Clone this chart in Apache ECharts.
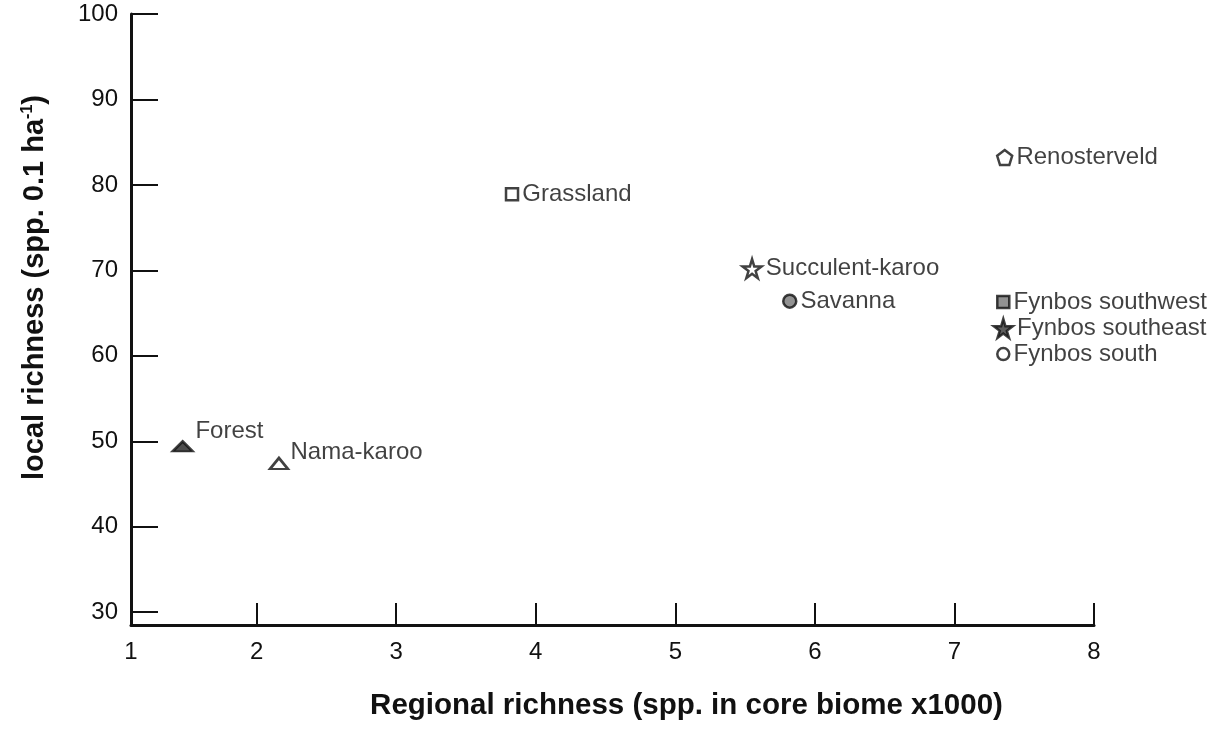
<!DOCTYPE html>
<html>
<head>
<meta charset="utf-8">
<script src="https://cdn.jsdelivr.net/npm/echarts@6/dist/echarts.min.js"></script>
<style>
  html, body { margin: 0; padding: 0; background: #fff; }
  #chart { width: 1226px; height: 731px; }
</style>
</head>
<body>
<div id="chart"></div>
<script>
// biomes and their richness values
var biomes = ['Forest', 'Nama-karoo', 'Grassland', 'Succulent-karoo', 'Savanna',
              'Renosterveld', 'Fynbos southwest', 'Fynbos southeast', 'Fynbos south'];
var regional = [1.47, 2.16, 3.83, 5.55, 5.82, 7.36, 7.35, 7.35, 7.35];
var local = [49.4, 47.4, 78.9, 70.2, 66.4, 83.2, 66.3, 63.2, 60.2];

var STAR = 'path://M50,0 L61,35 L98,35 L68,57 L79,91 L50,70 L21,91 L32,57 L2,35 L39,35 Z';
var PENTA = 'path://M50,0 L100,38 L81,100 L19,100 L0,38 Z';

// marker look for each biome
var looks = {
    'Forest':           { symbol: 'triangle', size: [20, 10], fill: '#222', offset: [-2, -15] },
    'Nama-karoo':       { symbol: 'triangle', size: [18, 11], fill: '#fff', offset: [-2, -11] },
    'Grassland':        { symbol: 'rect', size: 12, fill: '#fff' },
    'Succulent-karoo':  { symbol: STAR, size: 19, fill: '#fff' },
    'Savanna':          { symbol: 'circle', size: 13, fill: '#777' },
    'Renosterveld':     { symbol: PENTA, size: 15, fill: '#fff' },
    'Fynbos southwest': { symbol: 'rect', size: 12, fill: '#777' },
    'Fynbos southeast': { symbol: STAR, size: 19, fill: '#333' },
    'Fynbos south':     { symbol: 'circle', size: 12, fill: '#fff' }
};

var points = biomes.map(function (name, i) {
    var lk = looks[name];
    return {
        name: name,
        value: [regional[i], local[i]],
        symbol: lk.symbol,
        symbolSize: lk.size,
        itemStyle: { color: lk.fill, borderColor: '#111', borderWidth: 2.5 },
        label: { offset: lk.offset || [0, 0] }
    };
});

var myChart = echarts.init(document.getElementById('chart'));
var option = {
    backgroundColor: '#fff',
    animation: false,
    grid: { left: 131, right: 132, top: 14, bottom: 106 },
    xAxis: {
        type: 'value',
        min: 1.1,
        max: 8,
        name: 'Regional richness (spp. in core biome x1000)',
        nameLocation: 'middle',
        nameGap: 66,
        nameTextStyle: {
            fontFamily: 'Liberation Sans', fontSize: 29.5, fontWeight: 'bold', color: '#111',
            padding: [0, 0, 0, 148]
        },
        axisLine: { lineStyle: { color: '#111', width: 3 } },
        axisTick: { inside: true, length: 22, lineStyle: { color: '#111', width: 2 } },
        axisLabel: {
            showMinLabel: true,
            margin: 15,
            fontFamily: 'Liberation Sans', fontSize: 24, color: '#111',
            formatter: function (v) { return v < 1.5 ? '1' : v; }
        },
        splitLine: { show: false }
    },
    yAxis: {
        type: 'value',
        min: 28.5,
        max: 100,
        name: 'local richness (spp. 0.1 ha{sup|-1})',
        nameLocation: 'middle',
        nameGap: 81,
        nameTextStyle: {
            fontFamily: 'Liberation Sans', fontSize: 29, fontWeight: 'bold', color: '#111',
            padding: [0, 0, 0, 64],
            rich: {
                sup: { fontFamily: 'Liberation Sans', fontSize: 16, fontWeight: 'bold', color: '#111', verticalAlign: 'top', padding: [0, 0, 14, 0] }
            }
        },
        axisLine: { lineStyle: { color: '#111', width: 3 } },
        axisTick: { inside: true, length: 27, lineStyle: { color: '#111', width: 2 } },
        axisLabel: {
            margin: 13,
            fontFamily: 'Liberation Sans', fontSize: 24, color: '#111',
            formatter: function (v) { return v < 29 ? '' : v; }
        },
        splitLine: { show: false }
    },
    series: [{
        type: 'scatter',
        data: points,
        label: {
            show: true,
            position: 'right',
            distance: 3,
            formatter: '{b}',
            fontFamily: 'Liberation Sans',
            fontSize: 24,
            color: '#111'
        }
    }]
};
myChart.setOption(option);
</script>
</body>
</html>
